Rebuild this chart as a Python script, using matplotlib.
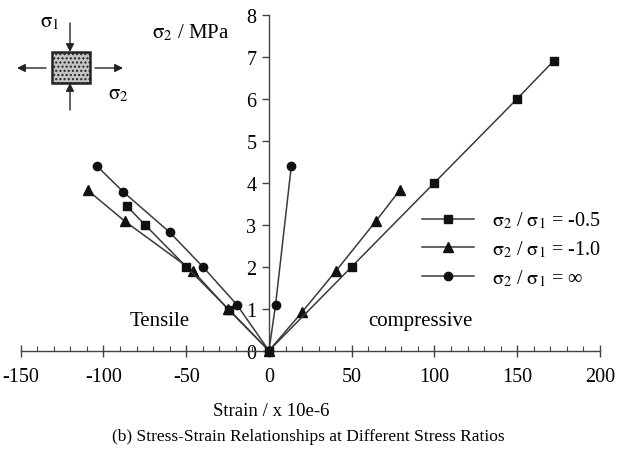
import numpy as np
import matplotlib
matplotlib.use("Agg")
import matplotlib.pyplot as plt
from matplotlib.patches import Rectangle

plt.rcParams['font.family'] = ['Liberation Serif', 'DejaVu Serif']
plt.rcParams['mathtext.fontset'] = 'stix'
plt.rcParams['axes.unicode_minus'] = False

# strain (x 10e-6) and stress sigma2 (MPa), left branch -> origin -> right branch
sq_x = [-86, -75, -50, -24, 0, 50, 100, 150, 172]
sq_y = [3.45, 3.0, 2.0, 0.97, 0, 2.0, 4.0, 6.0, 6.9]
tri_x = [-109.5, -87, -46, -25, 0, 20, 40.5, 64.5, 79]
tri_y = [3.82, 3.08, 1.9, 1.0, 0, 0.92, 1.9, 3.08, 3.82]
cir_x = [-104, -88, -60, -40, -19.5, 0, 4, 13.5]
cir_y = [4.4, 3.78, 2.82, 2.0, 1.1, 0, 1.1, 4.4]

labels = [r'$\mathrm{\sigma}_2$ / $\mathrm{\sigma}_1$ = -0.5',
          r'$\mathrm{\sigma}_2$ / $\mathrm{\sigma}_1$ = -1.0',
          r'$\mathrm{\sigma}_2$ / $\mathrm{\sigma}_1$ = ∞']

W, H = 621, 456
fig = plt.figure(figsize=(W / 100, H / 100), dpi=100)
ax = fig.add_axes([20.7 / W, 1 - 351.7 / H, (600 - 20.7) / W, (351.7 - 15.7) / H])

lc = '#3a3a3a'
kw = dict(color=lc, lw=1.1, mfc='#111111', mec='#111111', clip_on=False)
ax.plot(cir_x, cir_y, marker='o', ms=6, label=labels[2], zorder=3, **kw)
ax.plot(tri_x, tri_y, marker='^', ms=6.5, label=labels[1], zorder=4, **kw)
ax.plot(sq_x, sq_y, marker='s', ms=5.5, label=labels[0], zorder=5, **kw)

ax.set_xlim(-150, 200)
ax.set_ylim(0, 8)
for s in ['top', 'right']:
    ax.spines[s].set_visible(False)
ax.spines['left'].set_position(('data', 0))
for s in ['left', 'bottom']:
    ax.spines[s].set_color('#444444')
    ax.spines[s].set_linewidth(1.0)

ax.set_xticks(np.arange(-150, 201, 50))
ax.set_xticks(np.arange(-150, 201, 10), minor=True)
ax.set_yticks(np.arange(0, 9, 1))
ax.tick_params(axis='x', which='major', direction='inout', length=9, width=1.0,
               color='#444444', labelsize=14.5, pad=7)
ax.tick_params(axis='x', which='minor', direction='in', length=3.5, width=0.8,
               color='#444444')
ax.tick_params(axis='y', which='major', direction='out', length=5, width=1.0,
               color='#444444', labelsize=14.5, pad=4)
ax.patch.set_alpha(0)

h, l = ax.get_legend_handles_labels()
ax.legend(h[::-1], l[::-1], loc='upper left', frameon=False, fontsize=14.5,
          bbox_to_anchor=(422 / W, 1 - 211 / H), bbox_transform=fig.transFigure,
          borderpad=0, borderaxespad=0, handlelength=2.6, handletextpad=0.9,
          labelspacing=0.4)

fig.text(152 / W, 1 - 33 / H, r'$\mathrm{\sigma}_2$ / MPa', fontsize=15, va='center')
fig.text(160 / W, 1 - 321 / H, 'Tensile', fontsize=15, ha='center', va='center')
fig.text(420 / W, 1 - 322 / H, 'compressive', fontsize=15, ha='center', va='center')
fig.text(271 / W, 1 - 412 / H, 'Strain / x 10e-6', fontsize=13.5, ha='center', va='center')
fig.text(308 / W, 1 - 437 / H, '(b) Stress-Strain Relationships at Different Stress Ratios',
         fontsize=12.5, ha='center', va='center')

# small loading sketch in pixel coordinates
sk = fig.add_axes([0, 0, 1, 1])
sk.set_xlim(0, W)
sk.set_ylim(H, 0)
sk.axis('off')
sk.add_patch(Rectangle((52, 53), 38, 31, facecolor='#c4c4c4', edgecolor='#222222',
                       lw=1.8, hatch='....'))
ap = dict(arrowstyle='-|>', color='#222222', lw=1.0, mutation_scale=12, shrinkA=0, shrinkB=0)
sk.annotate('', xy=(70, 53), xytext=(70, 24), arrowprops=ap)
sk.annotate('', xy=(70, 84), xytext=(70, 111), arrowprops=ap)
sk.annotate('', xy=(17, 69), xytext=(46, 69), arrowprops=ap)
sk.annotate('', xy=(123, 69), xytext=(95, 69), arrowprops=ap)
sk.text(50, 23, r'$\mathrm{\sigma}_1$', fontsize=15, ha='center', va='center')
sk.text(118, 95, r'$\mathrm{\sigma}_2$', fontsize=15, ha='center', va='center')

fig.savefig('out.png', dpi=100)
